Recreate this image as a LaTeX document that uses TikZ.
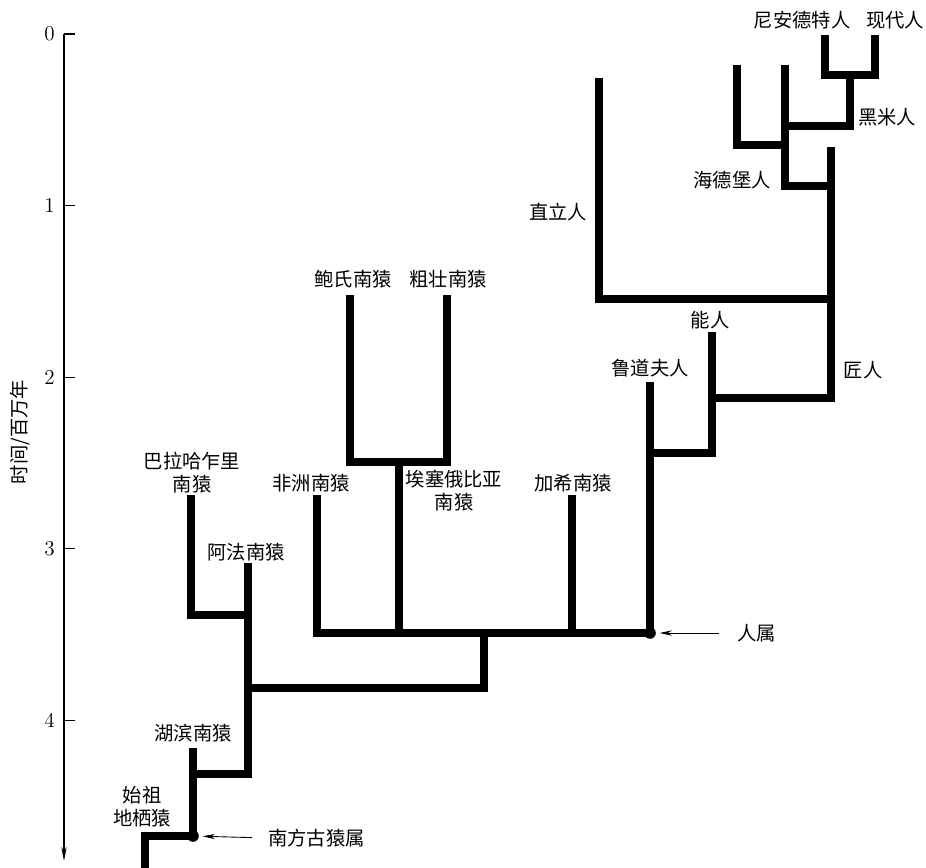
\documentclass[tikz,border=0pt]{standalone}
\usepackage{fontspec}
\newfontfamily\cjk{Noto Sans CJK SC}
\usetikzlibrary{arrows.meta,calc,positioning}

\begin{document}
\begin{tikzpicture}[x=0.02cm,y=-0.02cm,>=Stealth,
  branch/.style={line width=4pt,line join=miter},
  lbl/.style={font=\cjk\fontsize{11}{13}\selectfont,align=center,inner sep=1pt},
  pointer/.style={->,line width=0.5pt,>={Stealth[length=7pt,width=3pt]}}]
\useasboundingbox (0,0) rectangle (926,868);
% time axis
\coordinate (axtop) at (64,34);
\coordinate (axbot) at (64,861);
\draw[->,line width=0.6pt,>={Stealth[length=8pt,width=3pt]}] (axtop)--(axbot);
\foreach \t in {0,...,4}
  \draw[line width=0.6pt] ($(axtop)+(0,171.6*\t)$)--++(11,0)
    node[pos=0,left=5pt,inner sep=0pt,font=\large] (tick\t) {\t};
\node[lbl,rotate=90] (axlbl) at (20,432) {时间/百万年};
% tips and junctions
\coordinate (base) at (145,868);
\coordinate (ardi) at (145,832);
\coordinate (austr) at (193,836);
\coordinate (anam) at (193,748);
\coordinate (n1) at (193,774);
\coordinate (afar) at (248,563);
\coordinate (bahr) at (191,495);
\coordinate (n2) at (248,615);
\coordinate (n3) at (248,688);
\coordinate (n4) at (484,633);
\coordinate (afri) at (317,495);
\coordinate (homo) at (650,633);
\coordinate (ethi) at (399,633);
\coordinate (n5) at (399,462);
\coordinate (bois) at (350,295);
\coordinate (robu) at (447,295);
\coordinate (garh) at (572,495);
\coordinate (rudo) at (650,382);
\coordinate (n7) at (650,453);
\coordinate (habi) at (712,332);
\coordinate (n8) at (712,398);
\coordinate (erga) at (831,147);
\coordinate (n9) at (831,299);
\coordinate (erec) at (599,78);
\coordinate (n10) at (831,186);
\coordinate (heid) at (785,65);
\coordinate (n11) at (785,145);
\coordinate (heid2) at (737,65);
\coordinate (n12) at (785,126);
\coordinate (n13) at (850,75);
\coordinate (nean) at (825,35);
\coordinate (sapi) at (875,35);
% branches
\draw[branch] (base) |- (austr) -- (anam);
\draw[branch] (n1) -| (afar);
\draw[branch] (bahr) |- (n2);
\draw[branch] (n3) -| (n4);
\draw[branch] (afri) |- (homo);
\draw[branch] (ethi) -- (n5);
\draw[branch] (bois) |- (n5) -| (robu);
\draw[branch] (garh) -- (garh |- homo);
\draw[branch] (homo) -- (rudo);
\draw[branch] (n7) -| (habi);
\draw[branch] (n8) -| (erga);
\draw[branch] (n9) -| (erec);
\draw[branch] (n10) -| (heid);
\draw[branch] (n11) -| (heid2);
\draw[branch] (n12) -| (n13);
\draw[branch] (nean) |- (n13) -| (sapi);
\fill (austr) circle(3.3pt);
\fill (homo) circle(3.3pt);
% names
\node[lbl] (l-nean) at (802,20) {尼安德特人};
\node[lbl] (l-sapi) at (895,20) {现代人};
\node[lbl] (l-heim) at (887,117) {黑米人};
\node[lbl] (l-heid) at (732,180) {海德堡人};
\node[lbl] (l-erec) at (558,212) {直立人};
\node[lbl] (l-habi) at (710,320) {能人};
\node[lbl] (l-rudo) at (650,368) {鲁道夫人};
\node[lbl] (l-erga) at (863,370) {匠人};
\node[lbl] (l-bois) at (353,279) {鲍氏南猿};
\node[lbl] (l-robu) at (448,279) {粗壮南猿};
\node[lbl] (l-bahr) at (192,473) {巴拉哈乍里\\南猿};
\node[lbl] (l-afri) at (311,483) {非洲南猿};
\node[lbl] (l-ethi) at (454,491) {埃塞俄比亚\\南猿};
\node[lbl] (l-garh) at (573,483) {加希南猿};
\node[lbl] (l-afar) at (246,552) {阿法南猿};
\node[lbl] (l-anam) at (193,733) {湖滨南猿};
\node[lbl] (l-ardi) at (142,807) {始祖\\地栖猿};
% genus pointers
\node[lbl,anchor=west] (l-austr) at (266,838) {南方古猿属};
\node[lbl,anchor=west] (l-homo) at (735,633) {人属};
\draw[pointer,shorten <=8pt,shorten >=5.5pt] (l-austr.west)--(austr);
\draw[pointer,shorten <=9pt,shorten >=5.5pt] (l-homo.west)--(homo);
\end{tikzpicture}
\end{document}
